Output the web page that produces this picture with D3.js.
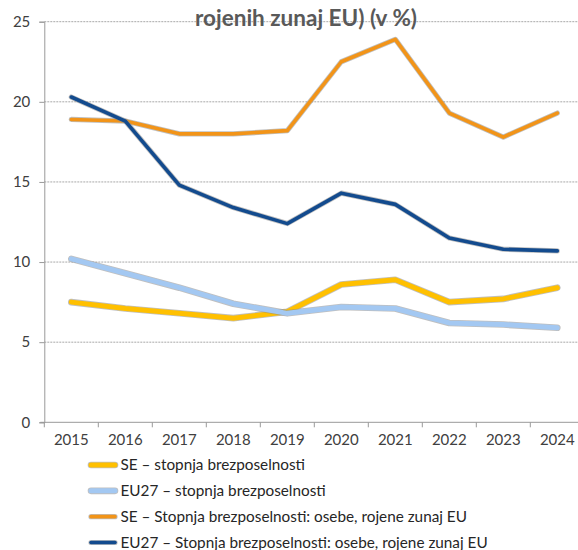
<!DOCTYPE html>
<html>
<head>
<meta charset="utf-8">
<script src="https://cdn.jsdelivr.net/npm/d3@7/dist/d3.min.js"></script>
<style>
  html, body { margin: 0; padding: 0; background: #fff; }
  svg { display: block; font-family: Lato, "Open Sans", sans-serif; }
</style>
</head>
<body>
<svg id="chart" width="578" height="550"></svg>
<script>
// Unemployment rates, Sweden vs EU27 (%)
const years = ["2015","2016","2017","2018","2019","2020","2021","2022","2023","2024"];
const seTotal   = [7.5, 7.1, 6.8, 6.5, 6.9, 8.6, 8.9, 7.5, 7.7, 8.4];
const euTotal   = [10.2, 9.3, 8.4, 7.4, 6.8, 7.2, 7.1, 6.2, 6.1, 5.9];
const seNonEU   = [18.9, 18.8, 18.0, 18.0, 18.2, 22.5, 23.9, 19.3, 17.8, 19.3];
const euNonEU   = [20.3, 18.8, 14.8, 13.4, 12.4, 14.3, 13.6, 11.5, 10.8, 10.7];
const yTicks    = [0, 5, 10, 15, 20, 25];
const seriesNames = [
  "SE – stopnja brezposelnosti",
  "EU27 – stopnja brezposelnosti",
  "SE – Stopnja brezposelnosti: osebe, rojene zunaj EU",
  "EU27 – Stopnja brezposelnosti: osebe, rojene zunaj EU"
];
const titleText = "rojenih zunaj EU) (v %)";

const series = [
  { name: seriesNames[0], values: seTotal, color: "#FFC000", width: 5 },
  { name: seriesNames[1], values: euTotal, color: "#A3C8F2", width: 5 },
  { name: seriesNames[2], values: seNonEU, color: "#F29418", width: 3.6 },
  { name: seriesNames[3], values: euNonEU, color: "#134B8E", width: 3.6 }
];

const svg = d3.select("#chart");
const plot = { left: 44.3, top: 21.7, bottom: 422.3, right: 578 };

const x = d3.scaleBand().domain(years).range([plot.left, plot.left + 540]).paddingInner(0).paddingOuter(0);
const y = d3.scaleLinear().domain([0, 25]).range([plot.bottom, plot.top]);
const cx = d => x(d) + x.bandwidth() / 2;

// horizontal gridlines
svg.append("g").selectAll("line").data(yTicks.filter(t => t > 0)).join("line")
  .attr("x1", plot.left).attr("x2", plot.right)
  .attr("y1", d => y(d)).attr("y2", d => y(d))
  .attr("stroke", "#a8a8a8").attr("stroke-width", 1)
  .attr("stroke-dasharray", "2,1");

// y axis
const yAxis = svg.append("g").attr("transform", `translate(${plot.left},0)`)
  .call(d3.axisLeft(y).tickValues(yTicks).tickSize(5).tickPadding(9));
yAxis.select(".domain").attr("stroke", "#999").attr("stroke-width", 1);
yAxis.selectAll(".tick line").attr("stroke", "#999");
yAxis.selectAll(".tick text").attr("font-size", 15).attr("fill", "#404040")
  .attr("font-family", "Lato, sans-serif");

// x axis with tick marks at band edges
const xAxis = svg.append("g").attr("transform", `translate(0,${plot.bottom})`)
  .call(d3.axisBottom(x).tickSize(0).tickPadding(12));
xAxis.select(".domain").remove();
svg.append("line").attr("x1", plot.left - 4).attr("x2", plot.right)
  .attr("y1", plot.bottom).attr("y2", plot.bottom)
  .attr("stroke", "#999").attr("stroke-width", 1);
svg.append("g").selectAll("line").data(years).join("line")
  .attr("x1", d => x(d)).attr("x2", d => x(d))
  .attr("y1", plot.bottom).attr("y2", plot.bottom + 5)
  .attr("stroke", "#999");
xAxis.selectAll(".tick text").attr("font-size", 15).attr("fill", "#404040")
  .attr("font-family", "Lato, sans-serif");

// title (second line visible)
svg.append("text").attr("x", 306).attr("y", 26)
  .attr("text-anchor", "middle").attr("font-size", 22.5).attr("font-weight", "bold")
  .attr("fill", "#595959").attr("font-family", "Lato, sans-serif")
  .text(titleText);

// series lines with soft grey edge
const line = d3.line().x((v, i) => cx(years[i])).y(v => y(v));
const lines = svg.append("g");
series.forEach(s => {
  lines.append("path").attr("d", line(s.values))
    .attr("fill", "none").attr("stroke", "#8a8a8a").attr("stroke-opacity", 0.55)
    .attr("stroke-width", s.width + 1.6).attr("stroke-linejoin", "round").attr("stroke-linecap", "round");
  lines.append("path").attr("d", line(s.values))
    .attr("fill", "none").attr("stroke", s.color)
    .attr("stroke-width", s.width).attr("stroke-linejoin", "round").attr("stroke-linecap", "round");
});

// legend
const legY = d3.scalePoint().domain(seriesNames).range([465, 542.5]);
const leg = svg.append("g").selectAll("g").data(series).join("g")
  .attr("transform", d => `translate(0,${legY(d.name)})`);
leg.append("line").attr("x1", 91).attr("x2", 115).attr("y1", 0).attr("y2", 0)
  .attr("stroke", "#8a8a8a").attr("stroke-opacity", 0.55)
  .attr("stroke-width", d => d.width + 1.6).attr("stroke-linecap", "round");
leg.append("line").attr("x1", 91).attr("x2", 115).attr("y1", 0).attr("y2", 0)
  .attr("stroke", d => d.color).attr("stroke-width", d => d.width).attr("stroke-linecap", "round");
leg.append("text").attr("x", 120.5).attr("y", 0).attr("dy", "0.35em")
  .attr("font-size", 15.3).attr("fill", "#262626").attr("font-family", "Lato, sans-serif")
  .text(d => d.name);
</script>
</body>
</html>
